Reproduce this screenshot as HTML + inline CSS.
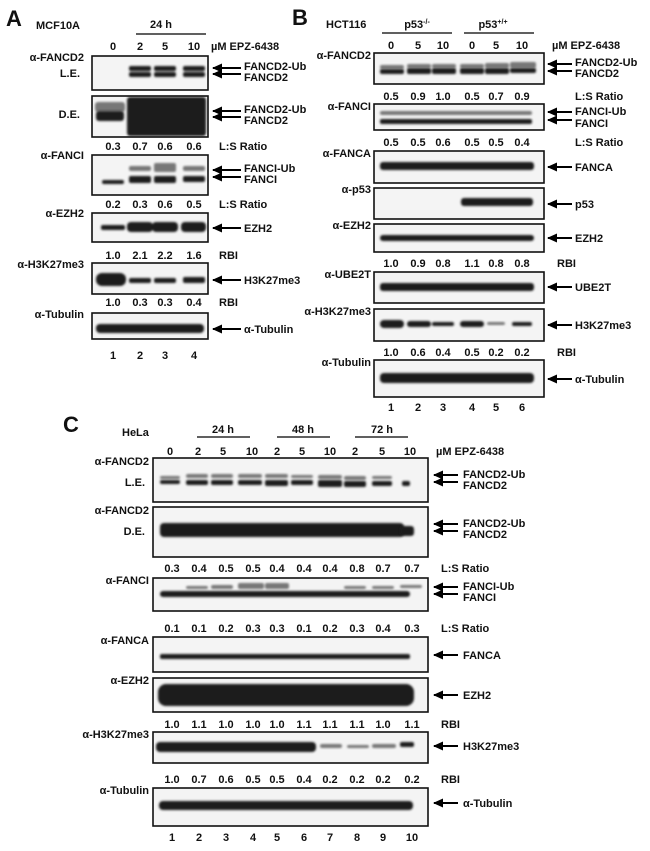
<!DOCTYPE html>
<html><head><meta charset="utf-8"><style>
html,body{margin:0;padding:0;background:#fff}
svg{display:block}
text{font-family:"Liberation Sans",sans-serif;font-weight:bold;font-size:11px;fill:#111}
.big{font-size:22px}
.r{text-anchor:end}.c{text-anchor:middle}
.box{fill:#f4f4f4;stroke:#111;stroke-width:1.6}
.b{fill:#1a1a1a;filter:url(#bl)}
.g{fill:#777;filter:url(#bl)}
</style></head><body>
<svg width="650" height="851" viewBox="0 0 650 851" xmlns="http://www.w3.org/2000/svg">
<defs>
<filter id="bl" x="-20%" y="-50%" width="140%" height="200%"><feGaussianBlur stdDeviation="1.1"/></filter>
<marker id="ah" markerUnits="userSpaceOnUse" markerWidth="10" markerHeight="9" refX="9" refY="4.5" orient="auto"><path d="M0,0 L10,4.5 L0,9 z" fill="#000"/></marker>
</defs>

<!-- ============ PANEL A ============ -->
<text x="6" y="26" class="big">A</text>
<text x="36" y="29">MCF10A</text>
<text x="161" y="28" class="c">24 h</text>
<line x1="136" y1="34" x2="206" y2="34" stroke="#000" stroke-width="1.3"/>
<g class="c"><text x="113" y="50" class="c">0</text><text x="140" y="50" class="c">2</text><text x="165" y="50" class="c">5</text><text x="194" y="50" class="c">10</text></g>
<text x="211" y="50">µM EPZ-6438</text>

<text x="84" y="61" class="r">α-FANCD2</text>
<text x="80" y="77" class="r">L.E.</text>
<rect class="box" x="92" y="56" width="116" height="34"/>
<g class="b"><rect x="129" y="66" width="22" height="5" rx="2"/><rect x="129" y="72" width="22" height="5" rx="2"/>
<rect x="154" y="66" width="22" height="5" rx="2"/><rect x="154" y="72" width="22" height="5" rx="2"/>
<rect x="183" y="66" width="22" height="5" rx="2"/><rect x="183" y="72" width="22" height="5" rx="2"/></g>
<line x1="241" y1="68" x2="213" y2="68" stroke="#000" stroke-width="2" marker-end="url(#ah)"/>
<line x1="241" y1="74" x2="213" y2="74" stroke="#000" stroke-width="2" marker-end="url(#ah)"/>
<text x="244" y="70">FANCD2-Ub</text><text x="244" y="81">FANCD2</text>

<text x="80" y="118" class="r">D.E.</text>
<rect class="box" x="92" y="96" width="116" height="41"/>
<rect class="g" x="95" y="102" width="30" height="10" rx="3"/>
<rect class="b" x="96" y="111" width="28" height="10" rx="3"/>
<rect class="b" x="127" y="97" width="79" height="39" rx="3"/>
<line x1="241" y1="111" x2="213" y2="111" stroke="#000" stroke-width="2" marker-end="url(#ah)"/>
<line x1="241" y1="117" x2="213" y2="117" stroke="#000" stroke-width="2" marker-end="url(#ah)"/>
<text x="244" y="113">FANCD2-Ub</text><text x="244" y="124">FANCD2</text>

<g><text x="113" y="150" class="c">0.3</text><text x="140" y="150" class="c">0.7</text><text x="165" y="150" class="c">0.6</text><text x="194" y="150" class="c">0.6</text></g>
<text x="219" y="150">L:S Ratio</text>
<text x="84" y="159" class="r">α-FANCI</text>
<rect class="box" x="92" y="155" width="116" height="40"/>
<g class="g"><rect x="129" y="166" width="22" height="5" rx="2"/><rect x="154" y="163" width="22" height="9" rx="2"/><rect x="183" y="166" width="22" height="5" rx="2"/></g>
<g class="b"><rect x="102" y="180" width="22" height="4" rx="2"/><rect x="129" y="176" width="22" height="7" rx="2"/><rect x="154" y="176" width="22" height="7" rx="2"/><rect x="183" y="176" width="22" height="6" rx="2"/></g>
<line x1="241" y1="170" x2="213" y2="170" stroke="#000" stroke-width="2" marker-end="url(#ah)"/>
<line x1="241" y1="177" x2="213" y2="177" stroke="#000" stroke-width="2" marker-end="url(#ah)"/>
<text x="244" y="172">FANCI-Ub</text><text x="244" y="183">FANCI</text>

<g><text x="113" y="208" class="c">0.2</text><text x="140" y="208" class="c">0.3</text><text x="165" y="208" class="c">0.6</text><text x="194" y="208" class="c">0.5</text></g>
<text x="219" y="208">L:S Ratio</text>
<text x="84" y="217" class="r">α-EZH2</text>
<rect class="box" x="92" y="213" width="116" height="29"/>
<g class="b"><rect x="101" y="225" width="24" height="5" rx="2"/><rect x="127" y="222" width="26" height="10" rx="4"/><rect x="152" y="222" width="26" height="10" rx="4"/><rect x="181" y="222" width="25" height="10" rx="4"/></g>
<line x1="241" y1="228" x2="213" y2="228" stroke="#000" stroke-width="2" marker-end="url(#ah)"/>
<text x="244" y="232">EZH2</text>

<g><text x="113" y="259" class="c">1.0</text><text x="140" y="259" class="c">2.1</text><text x="165" y="259" class="c">2.2</text><text x="194" y="259" class="c">1.6</text></g>
<text x="219" y="259">RBI</text>
<text x="84" y="268" class="r">α-H3K27me3</text>
<rect class="box" x="92" y="263" width="116" height="31"/>
<g class="b"><rect x="96" y="273" width="30" height="13" rx="6"/><rect x="129" y="278" width="22" height="5" rx="2"/><rect x="154" y="278" width="22" height="5" rx="2"/><rect x="183" y="277" width="22" height="6" rx="2"/></g>
<line x1="241" y1="280" x2="213" y2="280" stroke="#000" stroke-width="2" marker-end="url(#ah)"/>
<text x="244" y="284">H3K27me3</text>

<g><text x="113" y="306" class="c">1.0</text><text x="140" y="306" class="c">0.3</text><text x="165" y="306" class="c">0.3</text><text x="194" y="306" class="c">0.4</text></g>
<text x="219" y="306">RBI</text>
<text x="84" y="318" class="r">α-Tubulin</text>
<rect class="box" x="92" y="313" width="116" height="26"/>
<g class="b"><rect x="96" y="324" width="108" height="9" rx="4"/></g>
<line x1="241" y1="329" x2="213" y2="329" stroke="#000" stroke-width="2" marker-end="url(#ah)"/>
<text x="244" y="333">α-Tubulin</text>
<g><text x="113" y="359" class="c">1</text><text x="140" y="359" class="c">2</text><text x="165" y="359" class="c">3</text><text x="194" y="359" class="c">4</text></g>

<!-- ============ PANEL B ============ -->
<text x="292" y="25" class="big">B</text>
<text x="326" y="28">HCT116</text>
<text x="417" y="28" class="c">p53<tspan font-size="7" dy="-4">-/-</tspan></text>
<line x1="382" y1="33" x2="452" y2="33" stroke="#000" stroke-width="1.3"/>
<text x="493" y="28" class="c">p53<tspan font-size="7" dy="-4">+/+</tspan></text>
<line x1="464" y1="33" x2="534" y2="33" stroke="#000" stroke-width="1.3"/>
<g><text x="391" y="49" class="c">0</text><text x="418" y="49" class="c">5</text><text x="443" y="49" class="c">10</text><text x="472" y="49" class="c">0</text><text x="496" y="49" class="c">5</text><text x="522" y="49" class="c">10</text></g>
<text x="552" y="49">µM  EPZ-6438</text>

<text x="371" y="59" class="r">α-FANCD2</text>
<rect class="box" x="374" y="53" width="170" height="31"/>
<g class="g"><rect x="380" y="65" width="24" height="4" rx="2"/><rect x="407" y="64" width="24" height="4" rx="2"/><rect x="432" y="64" width="24" height="4" rx="2"/><rect x="460" y="64" width="24" height="4" rx="2"/><rect x="485" y="63" width="24" height="5" rx="2"/><rect x="510" y="62" width="26" height="6" rx="2"/></g>
<g class="b"><rect x="380" y="69" width="24" height="5" rx="2"/><rect x="407" y="68" width="24" height="6" rx="2"/><rect x="432" y="68" width="24" height="6" rx="2"/><rect x="460" y="68" width="24" height="6" rx="2"/><rect x="485" y="68" width="24" height="6" rx="2"/><rect x="510" y="68" width="26" height="5" rx="2"/></g>
<line x1="572" y1="64" x2="548" y2="64" stroke="#000" stroke-width="2" marker-end="url(#ah)"/>
<line x1="572" y1="71" x2="548" y2="71" stroke="#000" stroke-width="2" marker-end="url(#ah)"/>
<text x="575" y="66">FANCD2-Ub</text><text x="575" y="77">FANCD2</text>

<g><text x="391" y="100" class="c">0.5</text><text x="418" y="100" class="c">0.9</text><text x="443" y="100" class="c">1.0</text><text x="472" y="100" class="c">0.5</text><text x="496" y="100" class="c">0.7</text><text x="522" y="100" class="c">0.9</text></g>
<text x="575" y="100">L:S Ratio</text>
<text x="371" y="110" class="r">α-FANCI</text>
<rect class="box" x="374" y="104" width="170" height="26"/>
<g class="g"><rect x="380" y="111" width="152" height="4" rx="2"/></g>
<g class="b"><rect x="380" y="119" width="152" height="5" rx="2"/></g>
<line x1="572" y1="112" x2="548" y2="112" stroke="#000" stroke-width="2" marker-end="url(#ah)"/>
<line x1="572" y1="120" x2="548" y2="120" stroke="#000" stroke-width="2" marker-end="url(#ah)"/>
<text x="575" y="115">FANCI-Ub</text><text x="575" y="127">FANCI</text>

<g><text x="391" y="146" class="c">0.5</text><text x="418" y="146" class="c">0.5</text><text x="443" y="146" class="c">0.6</text><text x="472" y="146" class="c">0.5</text><text x="496" y="146" class="c">0.5</text><text x="522" y="146" class="c">0.4</text></g>
<text x="575" y="146">L:S Ratio</text>
<text x="371" y="157" class="r">α-FANCA</text>
<rect class="box" x="374" y="151" width="170" height="32"/>
<g class="b"><rect x="380" y="162" width="154" height="8" rx="3"/></g>
<line x1="572" y1="167" x2="548" y2="167" stroke="#000" stroke-width="2" marker-end="url(#ah)"/>
<text x="575" y="171">FANCA</text>

<text x="371" y="193" class="r">α-p53</text>
<rect class="box" x="374" y="188" width="170" height="31"/>
<g class="b"><rect x="461" y="198" width="72" height="8" rx="3"/></g>
<line x1="572" y1="204" x2="548" y2="204" stroke="#000" stroke-width="2" marker-end="url(#ah)"/>
<text x="575" y="208">p53</text>

<text x="371" y="229" class="r">α-EZH2</text>
<rect class="box" x="374" y="224" width="170" height="28"/>
<g class="b"><rect x="380" y="235" width="154" height="6" rx="3"/></g>
<line x1="572" y1="238" x2="548" y2="238" stroke="#000" stroke-width="2" marker-end="url(#ah)"/>
<text x="575" y="242">EZH2</text>

<g><text x="391" y="267" class="c">1.0</text><text x="418" y="267" class="c">0.9</text><text x="443" y="267" class="c">0.8</text><text x="472" y="267" class="c">1.1</text><text x="496" y="267" class="c">0.8</text><text x="522" y="267" class="c">0.8</text></g>
<text x="557" y="267">RBI</text>
<text x="371" y="278" class="r">α-UBE2T</text>
<rect class="box" x="374" y="272" width="170" height="31"/>
<g class="b"><rect x="380" y="283" width="154" height="8" rx="3"/></g>
<line x1="572" y1="287" x2="548" y2="287" stroke="#000" stroke-width="2" marker-end="url(#ah)"/>
<text x="575" y="291">UBE2T</text>

<text x="371" y="315" class="r">α-H3K27me3</text>
<rect class="box" x="374" y="309" width="170" height="32"/>
<g class="b"><rect x="380" y="320" width="24" height="8" rx="4"/><rect x="407" y="321" width="24" height="6" rx="3"/><rect x="432" y="322" width="22" height="4" rx="2"/><rect x="460" y="321" width="24" height="6" rx="3"/><rect x="512" y="322" width="20" height="4" rx="2"/></g>
<rect class="g" x="487" y="322" width="18" height="3" rx="2"/>
<line x1="572" y1="325" x2="548" y2="325" stroke="#000" stroke-width="2" marker-end="url(#ah)"/>
<text x="575" y="329">H3K27me3</text>

<g><text x="391" y="356" class="c">1.0</text><text x="418" y="356" class="c">0.6</text><text x="443" y="356" class="c">0.4</text><text x="472" y="356" class="c">0.5</text><text x="496" y="356" class="c">0.2</text><text x="522" y="356" class="c">0.2</text></g>
<text x="557" y="356">RBI</text>
<text x="371" y="366" class="r">α-Tubulin</text>
<rect class="box" x="374" y="360" width="170" height="37"/>
<g class="b"><rect x="380" y="373" width="154" height="10" rx="4"/></g>
<line x1="572" y1="379" x2="548" y2="379" stroke="#000" stroke-width="2" marker-end="url(#ah)"/>
<text x="575" y="383">α-Tubulin</text>
<g><text x="391" y="411" class="c">1</text><text x="418" y="411" class="c">2</text><text x="443" y="411" class="c">3</text><text x="472" y="411" class="c">4</text><text x="496" y="411" class="c">5</text><text x="522" y="411" class="c">6</text></g>

<!-- ============ PANEL C ============ -->
<text x="63" y="432" class="big">C</text>
<text x="122" y="436">HeLa</text>
<text x="223" y="433" class="c">24 h</text><line x1="197" y1="437" x2="250" y2="437" stroke="#000" stroke-width="1.3"/>
<text x="303" y="433" class="c">48 h</text><line x1="277" y1="437" x2="330" y2="437" stroke="#000" stroke-width="1.3"/>
<text x="382" y="433" class="c">72 h</text><line x1="355" y1="437" x2="408" y2="437" stroke="#000" stroke-width="1.3"/>
<g><text x="170" y="455" class="c">0</text><text x="198" y="455" class="c">2</text><text x="223" y="455" class="c">5</text><text x="252" y="455" class="c">10</text><text x="277" y="455" class="c">2</text><text x="302" y="455" class="c">5</text><text x="330" y="455" class="c">10</text><text x="355" y="455" class="c">2</text><text x="382" y="455" class="c">5</text><text x="410" y="455" class="c">10</text></g>
<text x="436" y="455">µM EPZ-6438</text>

<text x="149" y="465" class="r">α-FANCD2</text>
<text x="145" y="486" class="r">L.E.</text>
<rect class="box" x="153" y="458" width="275" height="44"/>
<g class="g"><rect x="160" y="476" width="20" height="3" rx="2"/><rect x="186" y="474" width="22" height="4" rx="2"/><rect x="211" y="474" width="22" height="4" rx="2"/><rect x="238" y="474" width="24" height="4" rx="2"/><rect x="265" y="474" width="23" height="4" rx="2"/><rect x="291" y="475" width="22" height="3" rx="2"/><rect x="318" y="475" width="24" height="4" rx="2"/><rect x="344" y="476" width="22" height="4" rx="2"/><rect x="372" y="476" width="20" height="3" rx="2"/></g>
<g class="b"><rect x="160" y="480" width="20" height="4" rx="2"/><rect x="186" y="480" width="22" height="5" rx="2"/><rect x="211" y="480" width="22" height="5" rx="2"/><rect x="238" y="480" width="24" height="5" rx="2"/><rect x="265" y="480" width="23" height="6" rx="2"/><rect x="291" y="480" width="22" height="5" rx="2"/><rect x="318" y="480" width="24" height="7" rx="2"/><rect x="344" y="481" width="22" height="6" rx="2"/><rect x="372" y="481" width="20" height="5" rx="2"/><rect x="402" y="481" width="8" height="5" rx="2"/></g>
<line x1="458" y1="475" x2="434" y2="475" stroke="#000" stroke-width="2" marker-end="url(#ah)"/>
<line x1="458" y1="482" x2="434" y2="482" stroke="#000" stroke-width="2" marker-end="url(#ah)"/>
<text x="463" y="478">FANCD2-Ub</text><text x="463" y="489">FANCD2</text>

<text x="149" y="514" class="r">α-FANCD2</text>
<text x="145" y="535" class="r">D.E.</text>
<rect class="box" x="153" y="507" width="275" height="50"/>
<g class="b"><rect x="160" y="523" width="244" height="14" rx="4"/></g>
<rect class="b" x="400" y="526" width="14" height="10" rx="3"/>
<line x1="458" y1="524" x2="434" y2="524" stroke="#000" stroke-width="2" marker-end="url(#ah)"/>
<line x1="458" y1="531" x2="434" y2="531" stroke="#000" stroke-width="2" marker-end="url(#ah)"/>
<text x="463" y="527">FANCD2-Ub</text><text x="463" y="538">FANCD2</text>

<g><text x="172" y="572" class="c">0.3</text><text x="199" y="572" class="c">0.4</text><text x="226" y="572" class="c">0.5</text><text x="253" y="572" class="c">0.5</text><text x="277" y="572" class="c">0.4</text><text x="304" y="572" class="c">0.4</text><text x="330" y="572" class="c">0.4</text><text x="357" y="572" class="c">0.8</text><text x="383" y="572" class="c">0.7</text><text x="412" y="572" class="c">0.7</text></g>
<text x="441" y="572">L:S Ratio</text>

<text x="149" y="584" class="r">α-FANCI</text>
<rect class="box" x="153" y="578" width="275" height="33"/>
<g class="g"><rect x="186" y="586" width="22" height="3" rx="2"/><rect x="211" y="585" width="22" height="4" rx="2"/><rect x="238" y="583" width="26" height="6" rx="2"/><rect x="265" y="583" width="24" height="6" rx="2"/><rect x="344" y="586" width="22" height="3" rx="2"/><rect x="372" y="586" width="22" height="3" rx="2"/><rect x="400" y="585" width="22" height="3" rx="2"/></g>
<g class="b"><rect x="160" y="591" width="250" height="6" rx="3"/></g>
<line x1="458" y1="587" x2="434" y2="587" stroke="#000" stroke-width="2" marker-end="url(#ah)"/>
<line x1="458" y1="594" x2="434" y2="594" stroke="#000" stroke-width="2" marker-end="url(#ah)"/>
<text x="463" y="590">FANCI-Ub</text><text x="463" y="601">FANCI</text>

<g><text x="172" y="632" class="c">0.1</text><text x="199" y="632" class="c">0.1</text><text x="226" y="632" class="c">0.2</text><text x="253" y="632" class="c">0.3</text><text x="277" y="632" class="c">0.3</text><text x="304" y="632" class="c">0.1</text><text x="330" y="632" class="c">0.2</text><text x="357" y="632" class="c">0.3</text><text x="383" y="632" class="c">0.4</text><text x="412" y="632" class="c">0.3</text></g>
<text x="441" y="632">L:S Ratio</text>

<text x="149" y="644" class="r">α-FANCA</text>
<rect class="box" x="153" y="637" width="275" height="35"/>
<g class="b"><rect x="160" y="654" width="250" height="5" rx="2"/></g>
<line x1="458" y1="655" x2="434" y2="655" stroke="#000" stroke-width="2" marker-end="url(#ah)"/>
<text x="463" y="659">FANCA</text>

<text x="149" y="684" class="r">α-EZH2</text>
<rect class="box" x="153" y="678" width="275" height="34"/>
<g class="b"><rect x="158" y="684" width="256" height="22" rx="8"/></g>
<line x1="458" y1="695" x2="434" y2="695" stroke="#000" stroke-width="2" marker-end="url(#ah)"/>
<text x="463" y="699">EZH2</text>

<g><text x="172" y="728" class="c">1.0</text><text x="199" y="728" class="c">1.1</text><text x="226" y="728" class="c">1.0</text><text x="253" y="728" class="c">1.0</text><text x="277" y="728" class="c">1.0</text><text x="304" y="728" class="c">1.1</text><text x="330" y="728" class="c">1.1</text><text x="357" y="728" class="c">1.1</text><text x="383" y="728" class="c">1.0</text><text x="412" y="728" class="c">1.1</text></g>
<text x="441" y="728">RBI</text>

<text x="149" y="738" class="r">α-H3K27me3</text>
<rect class="box" x="153" y="732" width="275" height="31"/>
<g class="b"><rect x="156" y="742" width="160" height="10" rx="4"/></g>
<g class="g"><rect x="320" y="744" width="22" height="4" rx="2"/><rect x="347" y="745" width="22" height="3" rx="2"/><rect x="372" y="744" width="24" height="4" rx="2"/></g>
<rect class="b" x="400" y="742" width="14" height="5" rx="2"/>
<line x1="458" y1="746" x2="434" y2="746" stroke="#000" stroke-width="2" marker-end="url(#ah)"/>
<text x="463" y="750">H3K27me3</text>

<g><text x="172" y="783" class="c">1.0</text><text x="199" y="783" class="c">0.7</text><text x="226" y="783" class="c">0.6</text><text x="253" y="783" class="c">0.5</text><text x="277" y="783" class="c">0.5</text><text x="304" y="783" class="c">0.4</text><text x="330" y="783" class="c">0.2</text><text x="357" y="783" class="c">0.2</text><text x="383" y="783" class="c">0.2</text><text x="412" y="783" class="c">0.2</text></g>
<text x="441" y="783">RBI</text>

<text x="149" y="794" class="r">α-Tubulin</text>
<rect class="box" x="153" y="788" width="275" height="38"/>
<g class="b"><rect x="159" y="801" width="254" height="9" rx="4"/></g>
<line x1="458" y1="803" x2="434" y2="803" stroke="#000" stroke-width="2" marker-end="url(#ah)"/>
<text x="463" y="807">α-Tubulin</text>
<g><text x="172" y="841" class="c">1</text><text x="199" y="841" class="c">2</text><text x="226" y="841" class="c">3</text><text x="253" y="841" class="c">4</text><text x="277" y="841" class="c">5</text><text x="304" y="841" class="c">6</text><text x="330" y="841" class="c">7</text><text x="357" y="841" class="c">8</text><text x="383" y="841" class="c">9</text><text x="412" y="841" class="c">10</text></g>
</svg>
</body></html>
